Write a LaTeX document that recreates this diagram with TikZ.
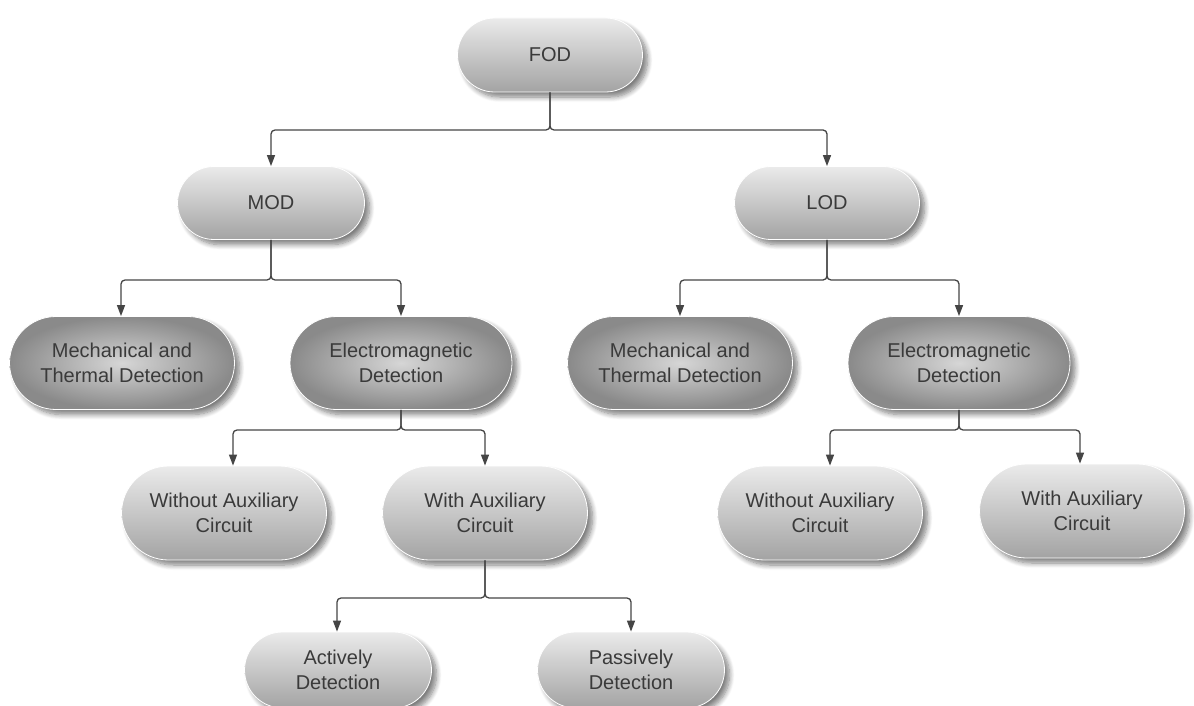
\documentclass[tikz,border=0pt]{standalone}
\usepackage{fontspec}
\setmainfont{Liberation Sans}
\usetikzlibrary{shapes.misc,shadows.blur,arrows.meta}
\definecolor{txt}{HTML}{3A3A3A}
\definecolor{lnc}{HTML}{454545}
\tikzset{
  base/.style={rounded rectangle, draw=white, line width=0.8pt, text=txt,
    font=\fontsize{20}{25}\selectfont, align=center, inner sep=0pt,
    blur shadow={shadow xshift=5pt, shadow yshift=-5pt, shadow blur steps=8, shadow opacity=50, shadow blur radius=5pt}},
  lightbox/.style={base, top color=black!8, bottom color=black!36},
  darkbox/.style={base, inner color=black!16, outer color=black!46},
  conn/.style={draw=lnc, line width=1.3pt, rounded corners=4pt, -{Triangle[length=11pt,width=8pt]}},
}
\begin{document}
\begin{tikzpicture}[x=1pt,y=-1pt]
\useasboundingbox (0,0) rectangle (1194,706);
\begin{scope}
\clip (0,0) rectangle (1194,706);
% nodes
\node[lightbox, minimum width=185pt, minimum height=74pt] (FOD) at (550,55) {FOD};
\node[lightbox, minimum width=187pt, minimum height=73pt] (MOD) at (271,203) {MOD};
\node[lightbox, minimum width=185pt, minimum height=73pt] (LOD) at (827,203) {LOD};
\node[darkbox, minimum width=225pt, minimum height=93pt] (MTL) at (122,363) {Mechanical and\\Thermal Detection};
\node[darkbox, minimum width=222pt, minimum height=93pt] (EML) at (401,363) {Electromagnetic\\Detection};
\node[darkbox, minimum width=225pt, minimum height=93pt] (MTR) at (680,363) {Mechanical and\\Thermal Detection};
\node[darkbox, minimum width=222pt, minimum height=93pt] (EMR) at (959,363) {Electromagnetic\\Detection};
\node[lightbox, minimum width=205pt, minimum height=94pt] (WOL) at (224,513) {Without Auxiliary\\Circuit};
\node[lightbox, minimum width=205pt, minimum height=94pt] (WL) at (485,513) {With Auxiliary\\Circuit};
\node[lightbox, minimum width=205pt, minimum height=94pt] (WOR) at (820,513) {Without Auxiliary\\Circuit};
\node[lightbox, minimum width=205pt, minimum height=94pt] (WR) at (1082,511) {With Auxiliary\\Circuit};
\node[lightbox, minimum width=187pt, minimum height=76pt] (ACT) at (338,670) {Actively\\Detection};
\node[lightbox, minimum width=187pt, minimum height=76pt] (PAS) at (631,670) {Passively\\Detection};
% junctions
\coordinate (j1) at (550,130);
\coordinate (j2) at (271,280);
\coordinate (j3) at (827,280);
\coordinate (j4) at (401,430);
\coordinate (j5) at (959,430);
\coordinate (j6) at (485,598);
% connectors
\draw[conn] (FOD.south) -- (j1) -| (MOD.north);
\draw[conn] (FOD.south) -- (j1) -| (LOD.north);
\draw[conn] (MOD.south) -- (j2) -| ([xshift=-1pt]MTL.north);
\draw[conn] (MOD.south) -- (j2) -| (EML.north);
\draw[conn] (LOD.south) -- (j3) -| (MTR.north);
\draw[conn] (LOD.south) -- (j3) -| (EMR.north);
\draw[conn] (EML.south) -- (j4) -| ([xshift=9pt]WOL.north);
\draw[conn] (EML.south) -- (j4) -| (WL.north);
\draw[conn] (EMR.south) -- (j5) -| ([xshift=10pt]WOR.north);
\draw[conn] (EMR.south) -- (j5) -| ([xshift=-2pt]WR.north);
\draw[conn] (WL.south) -- (j6) -| ([xshift=-1pt]ACT.north);
\draw[conn] (WL.south) -- (j6) -| (PAS.north);
\end{scope}
\end{tikzpicture}
\end{document}
